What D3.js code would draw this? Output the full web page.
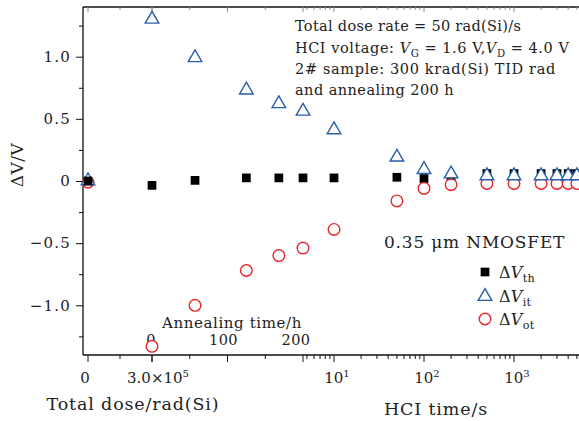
<!DOCTYPE html>
<html>
<head>
<meta charset="utf-8">
<script src="https://cdn.jsdelivr.net/npm/d3@7"></script>
<style>
  body { margin: 0; background: #fff; }
  svg { display: block; font-family: "DejaVu Serif", serif; }
  .axis path, .axis line { stroke: #111; }
  .axis text { font-family: "DejaVu Serif", serif; fill: #222; }
</style>
</head>
<body>
<div id="chart"></div>
<script>
// data
const doseRad = [0, 3.0e5];
const doseVth = [0.0, -0.035];
const doseVit = [0.01, 1.31];
const doseVot = [-0.01, -1.33];

const annealHours = [57, 125, 168, 200];
const annealVth = [0.005, 0.025, 0.025, 0.025];
const annealVit = [1.0, 0.74, 0.63, 0.57];
const annealVot = [-1.0, -0.72, -0.60, -0.54];

const hciSeconds = [10, 50, 100, 200, 500, 1000, 2000, 3000, 4000, 5000];
const hciVth = [0.025, 0.03, 0.02, 0.03, 0.06, 0.06, 0.06, 0.06, 0.06, 0.06];
const hciVit = [0.42, 0.20, 0.10, 0.065, 0.05, 0.05, 0.05, 0.05, 0.05, 0.05];
const hciVot = [-0.39, -0.16, -0.06, -0.03, -0.02, -0.02, -0.02, -0.02, -0.02, -0.02];

const yTicks = [-1, -0.5, 0, 0.5, 1];
const yMinor = [-1.25, -0.75, -0.25, 0.25, 0.75, 1.25];
const annealTicks = [0, 100, 200];
const annealMinor = [50, 150];
const hciMajor = [10, 100, 1000];
const hciMinor = [5, 6, 7, 8, 9, 20, 30, 40, 50, 60, 70, 80, 90,
  200, 300, 400, 500, 600, 700, 800, 900, 2000, 3000, 4000, 5000, 6000];

const width = 579, height = 421;
const plotLeft = 83, plotTop = 7, plotBottom = 355, plotRight = 610;

const blue = "#2a5daa", red = "#e8262b";

const svg = d3.select("#chart").append("svg")
    .attr("width", width)
    .attr("height", height);

const y = d3.scaleLinear().domain([-1.4, 1.4]).range([plotBottom, plotTop]);
const xDose = d3.scaleLinear().domain([0, 3.0e5]).range([88, 152]);
const xAnneal = d3.scaleLinear().domain([0, 200]).range([152, 303]);
const xAnnealLabel = d3.scaleLinear().domain([0, 200]).range([151, 296]);
const xHci = d3.scaleLog().domain([10, 1000]).range([334, 514]);

// left axis
svg.append("g")
    .attr("class", "axis")
    .attr("transform", "translate(" + plotLeft + ",0)")
    .call(d3.axisLeft(y).tickValues(yTicks).tickSize(7).tickPadding(5)
      .tickFormat(d => d === 0 ? "0" : d3.format(".1f")(d).replace("-", "\u2212")))
    .call(g => g.select(".domain").remove())
    .selectAll("text").attr("font-size", 15).attr("letter-spacing", 1.2);

svg.append("g")
    .attr("class", "axis")
    .attr("transform", "translate(" + plotLeft + ",0)")
    .call(d3.axisLeft(y).tickValues(yMinor).tickSize(4).tickFormat(""))
    .call(g => g.select(".domain").remove());

// frame lines
svg.append("line").attr("x1", plotLeft).attr("x2", plotLeft).attr("y1", plotTop).attr("y2", plotBottom)
    .attr("stroke", "#111").attr("stroke-width", 1.3);
svg.append("line").attr("x1", plotLeft).attr("x2", plotRight).attr("y1", plotBottom).attr("y2", plotBottom)
    .attr("stroke", "#111").attr("stroke-width", 1.3);
svg.append("line").attr("x1", plotLeft).attr("x2", plotRight).attr("y1", plotTop).attr("y2", plotTop)
    .attr("stroke", "#111").attr("stroke-width", 1.3);

// bottom / top ticks for the three segments
function ticks(scale, values, size) {
  [["b", plotBottom], ["t", plotTop]].forEach(([k, y0]) => {
    svg.append("g")
      .selectAll("line")
      .data(values)
      .join("line")
        .attr("x1", d => scale(d)).attr("x2", d => scale(d))
        .attr("y1", y0)
        .attr("y2", k === "b" ? y0 + size : y0 + size * 0.7)
        .attr("stroke", k === "b" ? "#111" : "#888")
        .attr("stroke-width", 1);
  });
}
ticks(xDose, [0, 3.0e5], 7);
ticks(xDose, [1.5e5], 4);
ticks(xAnneal, annealTicks, 7);
ticks(xAnneal, annealMinor, 4);
ticks(xHci, hciMajor, 7);
ticks(xHci, hciMinor, 4);

// tick labels
svg.append("text").attr("x", xDose(0) - 3).attr("y", 383)
    .attr("text-anchor", "middle").attr("font-size", 15).attr("fill", "#222").text("0");
const t3 = svg.append("text").attr("x", xDose(3.0e5) + 6).attr("y", 383)
    .attr("text-anchor", "middle").attr("font-size", 15).attr("fill", "#222");
t3.append("tspan").text("3.0\u00d710");
t3.append("tspan").attr("dy", -6).attr("font-size", 10).text("5");

svg.append("g").selectAll("text")
  .data(hciMajor)
  .join("text")
    .attr("x", d => xHci(d) + 3).attr("y", 383)
    .attr("text-anchor", "middle").attr("font-size", 15).attr("fill", "#222")
    .each(function(d) {
      const t = d3.select(this);
      t.append("tspan").text("10");
      t.append("tspan").attr("dy", -6).attr("font-size", 10).text(Math.round(Math.log10(d)));
    });

svg.append("g").selectAll("text")
  .data(annealTicks)
  .join("text")
    .attr("x", d => xAnnealLabel(d)).attr("y", 345)
    .attr("text-anchor", "middle").attr("font-size", 14.5).attr("letter-spacing", 0.4)
    .attr("fill", "#222")
    .text(d => d);
svg.append("text").attr("x", 232).attr("y", 328).attr("text-anchor", "middle")
    .attr("font-size", 15).attr("letter-spacing", 0.6).attr("fill", "#222").text("Annealing time/h");

// axis titles
svg.append("text").attr("x", 133).attr("y", 410).attr("text-anchor", "middle")
    .attr("font-size", 17.5).attr("letter-spacing", 0.85).attr("fill", "#222").text("Total dose/rad(Si)");
svg.append("text").attr("x", 436).attr("y", 415).attr("text-anchor", "middle")
    .attr("font-size", 17.5).attr("letter-spacing", 0.85).attr("fill", "#222").text("HCI time/s");
svg.append("text").attr("transform", "translate(23,165) rotate(-90)")
    .attr("text-anchor", "middle").attr("font-size", 17).attr("letter-spacing", 0.5)
    .attr("fill", "#222").text("\u0394V/V");

// annotation
function richLine(sel, x, yy, parts, size, spacing) {
  const t = sel.append("text").attr("x", x).attr("y", yy)
      .attr("font-size", size).attr("letter-spacing", spacing || 0).attr("fill", "#222");
  parts.forEach(p => {
    const s = t.append("tspan").text(p.t);
    if (p.i) s.attr("font-style", "italic");
    if (p.sub) s.attr("font-size", size * 0.7).attr("dy", 4);
    if (p.back) s.attr("dy", -4);
  });
  return t;
}
richLine(svg, 295, 31, [{t: "Total dose rate = 50 rad(Si)/s"}], 14.5, 0.3);
richLine(svg, 295, 53, [
  {t: "HCI voltage: "}, {t: "V", i: 1}, {t: "G", sub: 1},
  {t: " = 1.6 V,", back: 1}, {t: "V", i: 1}, {t: "D", sub: 1}, {t: " = 4.0 V", back: 1}], 14.5, 0.55);
richLine(svg, 295, 74, [{t: "2# sample: 300 krad(Si) TID rad"}], 14.5, 0.65);
richLine(svg, 295, 95, [{t: "and annealing 200 h"}], 14.5, 0.45);

// legend
svg.append("text").attr("x", 384).attr("y", 248).attr("font-size", 17)
    .attr("letter-spacing", 0.8).attr("fill", "#222")
    .text("0.35 \u03bcm NMOSFET");

const legendRows = [
  {sub: "th", kind: "sq"},
  {sub: "it", kind: "tri"},
  {sub: "ot", kind: "circ"}
];

const sq = d3.symbol().type(d3.symbolSquare).size(76);
const tri = d3.symbol().type(d3.symbolTriangle).size(80);

function marker(g, kind, cx, cy) {
  if (kind === "sq") {
    g.append("path").attr("d", sq()).attr("transform", "translate(" + cx + "," + cy + ")")
      .attr("fill", "#000");
  } else if (kind === "tri") {
    g.append("path").attr("d", tri()).attr("transform", "translate(" + cx + "," + (cy + 1) + ")")
      .attr("fill", "#fff").attr("stroke", blue).attr("stroke-width", 1.4);
  } else {
    g.append("circle").attr("cx", cx).attr("cy", cy).attr("r", 5.8)
      .attr("fill", "#fff").attr("stroke", red).attr("stroke-width", 1.4);
  }
}

legendRows.forEach((r, i) => {
  const cy = 272 + i * 23.5;
  marker(svg, r.kind, 485, cy);
  richLine(svg, 499, cy + 6, [{t: "\u0394"}, {t: "V", i: 1}, {t: r.sub, sub: 1}], 16, 0.3);
});

// data marks
const plot = svg.append("g");

function series(xs, xScale, vth, vit, vot, squaresLast) {
  const pts = xs.map((d, i) => ({x: xScale(d), th: vth[i], it: vit[i], ot: vot[i]}));
  const drawSq = () => pts.forEach(p => marker(plot, "sq", p.x, y(p.th)));
  if (!squaresLast) drawSq();
  pts.forEach(p => marker(plot, "circ", p.x, y(p.ot)));
  pts.forEach(p => marker(plot, "tri", p.x, y(p.it)));
  if (squaresLast) drawSq();
}

series(annealHours, xAnneal, annealVth, annealVit, annealVot, false);
series(hciSeconds, xHci, hciVth, hciVit, hciVot, false);
series(doseRad, xDose, doseVth, doseVit, doseVot, true);
</script>
</body>
</html>
